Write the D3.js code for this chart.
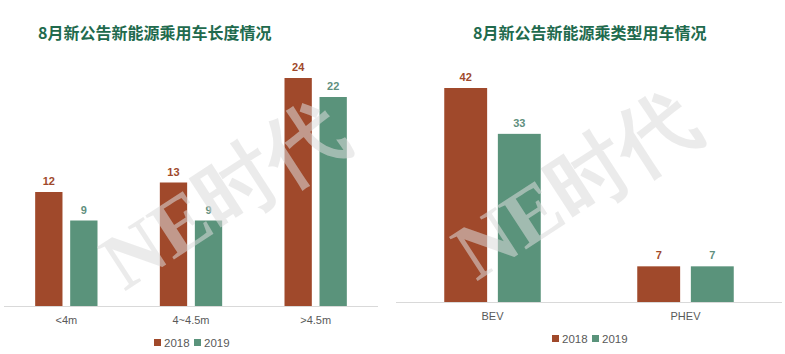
<script src="https://cdn.jsdelivr.net/npm/d3@7"></script>
<style>
 body { margin: 0; background: #fff; }
 text { font-family: "Liberation Sans", Arial, sans-serif; }
</style>
<body>
<script>
// chart 1: length
var lenTitle = "8月新公告新能源乘用车长度情况";
var lenCats = ["<4m", "4~4.5m", ">4.5m"];
var len2018 = [12, 13, 24];
var len2019 = [9, 9, 22];
// chart 2: type
var typeTitle = "8月新公告新能源乘类型用车情况";
var typeCats = ["BEV", "PHEV"];
var type2018 = [42, 7];
var type2019 = [33, 7];
var seriesNames = ["2018", "2019"];

var barColor = { "2018": "#a0492b", "2019": "#5a937b" };
var labelColor = { "2018": "#a0492b", "2019": "#5f8f7e" };

var svg = d3.select("body").append("svg")
 .attr("width", 785)
 .attr("height", 354);

function drawChart(opt) {
 var g = svg.append("g");
 var x0 = d3.scaleBand().domain(opt.cats).range([opt.x0, opt.x1])
  .paddingInner(0.5).paddingOuter(0.25);
 var x1 = d3.scaleBand().domain(seriesNames).range([0, x0.bandwidth()])
  .paddingInner(opt.gap);
 var y = d3.scaleLinear().domain([0, opt.max]).range([opt.base, opt.top]);

 g.append("text")
  .attr("x", opt.tx).attr("y", 39)
  .style("font-family", "'Noto Sans CJK SC', sans-serif")
  .style("font-size", "16px").style("font-weight", "bold")
  .attr("fill", "#216a4d")
  .text(opt.title);

 var rows = opt.cats.map(function(c, i) {
  return { cat: c, vals: [ { s: "2018", v: opt.a[i] }, { s: "2019", v: opt.b[i] } ] };
 });

 var grp = g.selectAll(".grp").data(rows).enter().append("g")
  .attr("transform", function(d) { return "translate(" + x0(d.cat) + ",0)"; });

 grp.selectAll("rect").data(function(d) { return d.vals; }).enter().append("rect")
  .attr("x", function(d) { return x1(d.s); })
  .attr("width", x1.bandwidth())
  .attr("y", function(d) { return y(d.v); })
  .attr("height", function(d) { return opt.base - y(d.v); })
  .attr("fill", function(d) { return barColor[d.s]; });

 grp.selectAll(".val").data(function(d) { return d.vals; }).enter().append("text")
  .attr("x", function(d) { return x1(d.s) + x1.bandwidth() / 2; })
  .attr("y", function(d) { return y(d.v) - 7; })
  .attr("text-anchor", "middle")
  .style("font-size", "11px").style("font-weight", "bold")
  .attr("fill", function(d) { return labelColor[d.s]; })
  .text(function(d) { return d.v; });

 g.append("line")
  .attr("x1", opt.x0).attr("x2", opt.x1)
  .attr("y1", opt.base + 0.5).attr("y2", opt.base + 0.5)
  .attr("stroke", "#d9d9d9");

 g.selectAll(".cat").data(opt.cats).enter().append("text")
  .attr("x", function(d) { return x0(d) + x0.bandwidth() / 2; })
  .attr("y", opt.base + 18)
  .attr("text-anchor", "middle")
  .style("font-size", "11px")
  .attr("fill", "#595959")
  .text(function(d) { return d; });

 // legend
 var lg = g.append("g").attr("transform", "translate(" + opt.lx + "," + (opt.base + 41) + ")");
 seriesNames.forEach(function(s, i) {
  lg.append("rect").attr("x", i * 40).attr("y", -8).attr("width", 7).attr("height", 7)
   .attr("fill", barColor[s]);
  lg.append("text").attr("x", i * 40 + 10).attr("y", 0)
   .style("font-size", "11.5px").attr("fill", "#595959").text(s);
 });

 // watermark, drawn over the bars
 g.append("text")
  .attr("transform", "translate(" + opt.wx + "," + opt.wy + ") rotate(-33)")
  .attr("text-anchor", "middle")
  .style("font-family", "'Liberation Serif', serif")
  .style("font-size", "80px").style("font-weight", "bold")
  .attr("fill", "#dcdcdc")
  .attr("opacity", 0.55)
  .text("NE时代");
}

drawChart({ title: lenTitle, cats: lenCats, a: len2018, b: len2019, max: 24,
 x0: 4, x1: 378, base: 306, top: 78, gap: 0.22, tx: 38, lx: 154, wx: 238, wy: 218 });
drawChart({ title: typeTitle, cats: typeCats, a: type2018, b: type2019, max: 42,
 x0: 396, x1: 782, base: 302, top: 88, gap: 0.2, tx: 473, lx: 552, wx: 590, wy: 208 });
</script>
</body>
